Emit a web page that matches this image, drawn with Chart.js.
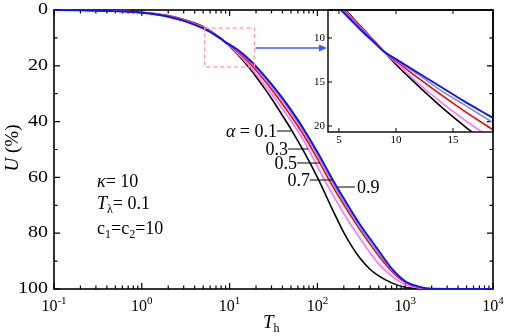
<!DOCTYPE html>
<html><head><meta charset="utf-8">
<script src="https://cdn.jsdelivr.net/npm/chart.js@4/dist/chart.umd.min.js"></script>
<style>html,body{margin:0;padding:0;background:#fff;}#wrap{position:relative;width:510px;height:336px;}canvas{display:block;}</style>
</head><body><div id="wrap"><canvas id="c" width="510" height="336" style="width:510px;height:336px"></canvas></div>
<script>
// ---- data ----
const T = [0.1,0.2,0.5,1,2,3,4,5,6,7,8,9,10,12,14,16,18,20,25,30,40,50,70,100,150,200,250,300,400,500,700,1000,1500,2000,5000,10000];
const U_a01 = [0,0.05,0.3,0.8,2.0,3.4,4.7,6.0,7.4,8.8,10.2,11.6,13.0,15.5,17.85,20.0,22.0,23.9,28.1,31.7,37.8,42.7,50.7,60.0,71.8,79.8,85.0,88.6,93.0,95.3,97.8,99.4,99.9,100,100,100];
const U_a03 = [0,0.06,0.33,0.85,2.1,3.5,4.8,6.1,7.5,8.9,10.25,11.6,12.8,15.2,17.35,19.3,21.1,22.9,26.8,30.1,35.5,39.8,46.8,56.1,66.3,73.0,77.8,81.5,87.1,91.0,95.3,98.4,99.7,100,100,100];
const U_a05 = [0,0.07,0.36,0.9,2.2,3.6,4.95,6.3,7.65,9.0,10.3,11.6,12.6,14.6,16.5,18.3,20.0,21.6,25.3,28.5,33.7,38.0,44.9,53.3,63.3,69.8,74.6,78.4,84.0,88.2,93.6,97.6,99.5,99.9,100,100];
const U_a07 = [0,0.08,0.38,0.95,2.3,3.75,5.1,6.45,7.75,9.1,10.35,11.6,12.5,14.2,16.0,17.6,19.2,20.8,24.3,27.4,32.4,36.7,43.6,51.9,62.0,68.8,73.7,77.6,83.2,87.3,93.1,97.4,99.4,99.9,100,100];
const U_a09 = [0,0.09,0.42,1.0,2.4,3.9,5.3,6.6,7.9,9.2,10.4,11.6,12.4,14.0,15.6,17.2,18.7,20.2,23.6,26.6,31.6,35.8,42.7,50.9,60.9,67.6,72.6,76.5,82.1,86.3,92.6,97.2,99.3,99.9,100,100];
const alphaLabels = ['0.1','0.3','0.5','0.7','0.9'];
const xMajorTicks = [0.1,1,10,100,1000,10000];
const xTickExp = ['-1','0','1','2','3','4'];
const yMajorTicks = [0,20,40,60,80,100];
const yMinorTicks = [10,30,50,70,90];
const insetXRange = [4.04,18.51];
const insetYRange = [6.82,20.68];
const insetXTicks = [5,10,15];
const insetYTicks = [10,15,20];
const zoomBoxT = [5.2,19.2];
const zoomBoxU = [6.5,20.4];

// ---- styles / layout ----
const series = [U_a09,U_a07,U_a05,U_a03,U_a01];
const colors = ['#1010ff','#8a8ac8','#ff0000','#ff70ff','#000000'];
const widths = [1.9,1.6,1.6,1.6,1.6];
const CA = {left:54, top:10, right:493, bottom:289};
const INS = {left:328, top:10, right:493, bottom:132};
const SERIF = '"Liberation Serif","Times New Roman",serif';
const f = (s,i)=>(i?'italic ':'')+s+'px '+SERIF;

const cw = CA.right-CA.left, ch = CA.bottom-CA.top;
const fl = (INS.left-CA.left)/cw, fr = (INS.right-CA.left)/cw;
const xSpan = (insetXRange[1]-insetXRange[0])/(fr-fl);
const x2min = insetXRange[0]-fl*xSpan, x2max = x2min + xSpan;
const ft = (INS.top-CA.top)/ch, fb = (INS.bottom-CA.top)/ch;
const ySpan = (insetYRange[1]-insetYRange[0])/(fb-ft);
const y2min = insetYRange[0]-ft*ySpan, y2max = y2min + ySpan;

const datasets = [];
series.forEach((u,k)=>{
  datasets.push({data:T.map((t,i)=>({x:t,y:u[i]})), xAxisID:'x', yAxisID:'y',
    borderColor:colors[k], borderWidth:widths[k], pointRadius:0, fill:false, cubicInterpolationMode:'monotone'});
});
series.forEach((u,k)=>{
  const pts = T.map((t,i)=>({x:t,y:u[i]})).filter(p=>p.x>=2 && p.x<=30);
  datasets.push({data:pts, xAxisID:'x2', yAxisID:'y2', borderColor:colors[k], borderWidth:widths[k],
    pointRadius:0, fill:false, cubicInterpolationMode:'monotone',
    clip:{left:-(INS.left-CA.left), top:0, right:0, bottom:-(CA.bottom-INS.bottom)}});
});

function runs(ctx,x,y,list){let cx=x;for(const r of list){ctx.font=f(r.s,r.i);ctx.fillText(r.t,cx,y+(r.dy||0));cx+=ctx.measureText(r.t).width;}return cx;}
function runsW(ctx,list){let w=0;for(const r of list){ctx.font=f(r.s,r.i);w+=ctx.measureText(r.t).width;}return w;}

const deco = {
  id:'deco',
  beforeDatasetsDraw(chart){
    const ctx=chart.ctx, ca=chart.chartArea, xs=chart.scales.x, ys=chart.scales.y;
    ctx.save(); ctx.strokeStyle='#000'; ctx.lineWidth=1.2;
    ctx.beginPath();
    for(let n=-1;n<=4;n++){
      const v=Math.pow(10,n), px=xs.getPixelForValue(v);
      ctx.moveTo(px,ca.bottom); ctx.lineTo(px,ca.bottom-6);
      ctx.moveTo(px,ca.top); ctx.lineTo(px,ca.top+6);
      if(n<4) for(let k=2;k<=9;k++){const p=xs.getPixelForValue(k*v);
        ctx.moveTo(p,ca.bottom); ctx.lineTo(p,ca.bottom-3.5);
        ctx.moveTo(p,ca.top); ctx.lineTo(p,ca.top+3.5);}
    }
    for(const v of yMajorTicks){const p=ys.getPixelForValue(v);ctx.moveTo(ca.left,p);ctx.lineTo(ca.left+6,p);}
    for(const v of yMinorTicks){const p=ys.getPixelForValue(v);ctx.moveTo(ca.left,p);ctx.lineTo(ca.left+3.5,p);}
    ctx.stroke();
    const il=chart.scales.x2.getPixelForValue(insetXRange[0]), ir=chart.scales.x2.getPixelForValue(insetXRange[1]);
    const it=chart.scales.y2.getPixelForValue(insetYRange[0]), ib=chart.scales.y2.getPixelForValue(insetYRange[1]);
    ctx.fillStyle='#fff'; ctx.fillRect(il,it,ir-il,ib-it);
    ctx.beginPath();
    for(const v of yMajorTicks){const p=ys.getPixelForValue(v);ctx.moveTo(ca.right,p);ctx.lineTo(ca.right-6,p);}
    for(const v of yMinorTicks){const p=ys.getPixelForValue(v);ctx.moveTo(ca.right,p);ctx.lineTo(ca.right-3.5,p);}
    ctx.stroke();
    ctx.lineWidth=1.6; ctx.strokeRect(ca.left,ca.top,ca.right-ca.left,ca.bottom-ca.top);
    ctx.restore();
  },
  afterDatasetsDraw(chart){
    const ctx=chart.ctx, xs=chart.scales.x, ys=chart.scales.y, x2=chart.scales.x2, y2=chart.scales.y2;
    ctx.save();
    const il=x2.getPixelForValue(insetXRange[0]), ir=x2.getPixelForValue(insetXRange[1]);
    const it=y2.getPixelForValue(insetYRange[0]), ib=y2.getPixelForValue(insetYRange[1]);
    ctx.strokeStyle='#000'; ctx.lineWidth=1.4; ctx.strokeRect(il,it,ir-il,ib-it);
    ctx.lineWidth=1; ctx.beginPath();
    for(const v of insetXTicks){const p=x2.getPixelForValue(v);ctx.moveTo(p,ib);ctx.lineTo(p,ib-4);ctx.moveTo(p,it);ctx.lineTo(p,it+4);}
    for(const v of insetYTicks){const p=y2.getPixelForValue(v);ctx.moveTo(il,p);ctx.lineTo(il+4,p);}
    ctx.stroke();
    ctx.fillStyle='#000'; ctx.font=f(11,false);
    ctx.textAlign='center'; ctx.textBaseline='alphabetic';
    for(const v of insetXTicks){ctx.fillText(String(v),x2.getPixelForValue(v),ib+11);}
    ctx.textAlign='right'; ctx.textBaseline='middle';
    for(const v of insetYTicks){ctx.fillText(String(v),il-3,y2.getPixelForValue(v));}
    const bl=xs.getPixelForValue(zoomBoxT[0]), br=xs.getPixelForValue(zoomBoxT[1]);
    const bt=ys.getPixelForValue(zoomBoxU[0]), bb=ys.getPixelForValue(zoomBoxU[1]);
    ctx.strokeStyle='#ff9a9a'; ctx.lineWidth=1.2; ctx.setLineDash([4,3]);
    ctx.strokeRect(bl,bt,br-bl,bb-bt); ctx.setLineDash([]);
    const ay=48;
    ctx.strokeStyle='#3a5cff'; ctx.fillStyle='#3a5cff'; ctx.lineWidth=1.5;
    ctx.beginPath(); ctx.moveTo(br+1,ay); ctx.lineTo(il-7,ay); ctx.stroke();
    ctx.beginPath(); ctx.moveTo(il-1,ay); ctx.lineTo(il-9,ay-3.5); ctx.lineTo(il-9,ay+3.5); ctx.closePath(); ctx.fill();
    ctx.fillStyle='#000';
    ctx.textAlign='left'; ctx.textBaseline='alphabetic';
    xMajorTicks.forEach((v,i)=>{
      const px=xs.getPixelForValue(v);
      const w=runsW(ctx,[{t:'10',s:16},{t:xTickExp[i],s:11}]);
      runs(ctx,px-w/2,311,[{t:'10',s:16},{t:xTickExp[i],s:11,dy:-7}]);
    });
    ctx.textAlign='right'; ctx.textBaseline='middle'; ctx.font=f(16,false);
    for(const v of yMajorTicks){
      const p=ys.getPixelForValue(v);
      ctx.save(); ctx.translate(48,p); ctx.scale(1.25,1); ctx.fillText(String(v),0,0); ctx.restore();
    }
    ctx.textAlign='left'; ctx.textBaseline='alphabetic';
    runs(ctx,263,328,[{t:'T',s:19,i:true},{t:'h',s:12,dy:4}]);
    ctx.save(); ctx.translate(18,148); ctx.rotate(-Math.PI/2);
    const tw=runsW(ctx,[{t:'U',s:19,i:true},{t:' (%)',s:19}]);
    runs(ctx,-tw/2,0,[{t:'U',s:19,i:true},{t:' (%)',s:19}]);
    ctx.restore();
    ctx.strokeStyle='#000'; ctx.lineWidth=1;
    const ann=[
      {runs:[{t:'\u03B1',s:18,i:true},{t:' = '+alphaLabels[0],s:18}], right:277, y:131, to:291},
      {runs:[{t:alphaLabels[1],s:18}], right:288, y:149, to:308},
      {runs:[{t:alphaLabels[2],s:18}], right:297, y:163, to:320},
      {runs:[{t:alphaLabels[3],s:18}], right:310, y:180, to:332}
    ];
    for(const a of ann){
      const w=runsW(ctx,a.runs); runs(ctx,a.right-w,a.y+6,a.runs);
      ctx.beginPath(); ctx.moveTo(a.right,a.y); ctx.lineTo(a.to,a.y); ctx.stroke();
    }
    ctx.beginPath(); ctx.moveTo(338,187); ctx.lineTo(355,187); ctx.stroke();
    runs(ctx,357,193,[{t:alphaLabels[4],s:18}]);
    runs(ctx,97,187,[{t:'\u03BA',s:18,i:true},{t:'= 10',s:18}]);
    runs(ctx,97,209,[{t:'T',s:18,i:true},{t:'\u03BB',s:12,dy:4},{t:'= 0.1',s:18}]);
    runs(ctx,97,234,[{t:'c',s:18},{t:'1',s:12,dy:4},{t:'=c',s:18},{t:'2',s:12,dy:4},{t:'=10',s:18}]);
    ctx.restore();
  }
};

new Chart(document.getElementById('c'),{
  type:'line',
  data:{datasets},
  options:{
    responsive:false, animation:false, devicePixelRatio:1,
    layout:{padding:{top:CA.top,right:510-CA.right,left:0,bottom:0}},
    plugins:{legend:{display:false},tooltip:{enabled:false}},
    scales:{
      x:{type:'logarithmic',min:0.1,max:10000,position:'bottom',
        grid:{display:false},border:{display:false},ticks:{display:false},
        afterFit(s){s.height=336-CA.bottom;}},
      y:{type:'linear',min:0,max:100,reverse:true,position:'left',
        grid:{display:false},border:{display:false},ticks:{display:false},
        afterFit(s){s.width=CA.left;}},
      x2:{type:'linear',min:x2min,max:x2max,display:false},
      y2:{type:'linear',min:y2min,max:y2max,reverse:true,display:false}
    }
  },
  plugins:[deco]
});
</script></body></html>
